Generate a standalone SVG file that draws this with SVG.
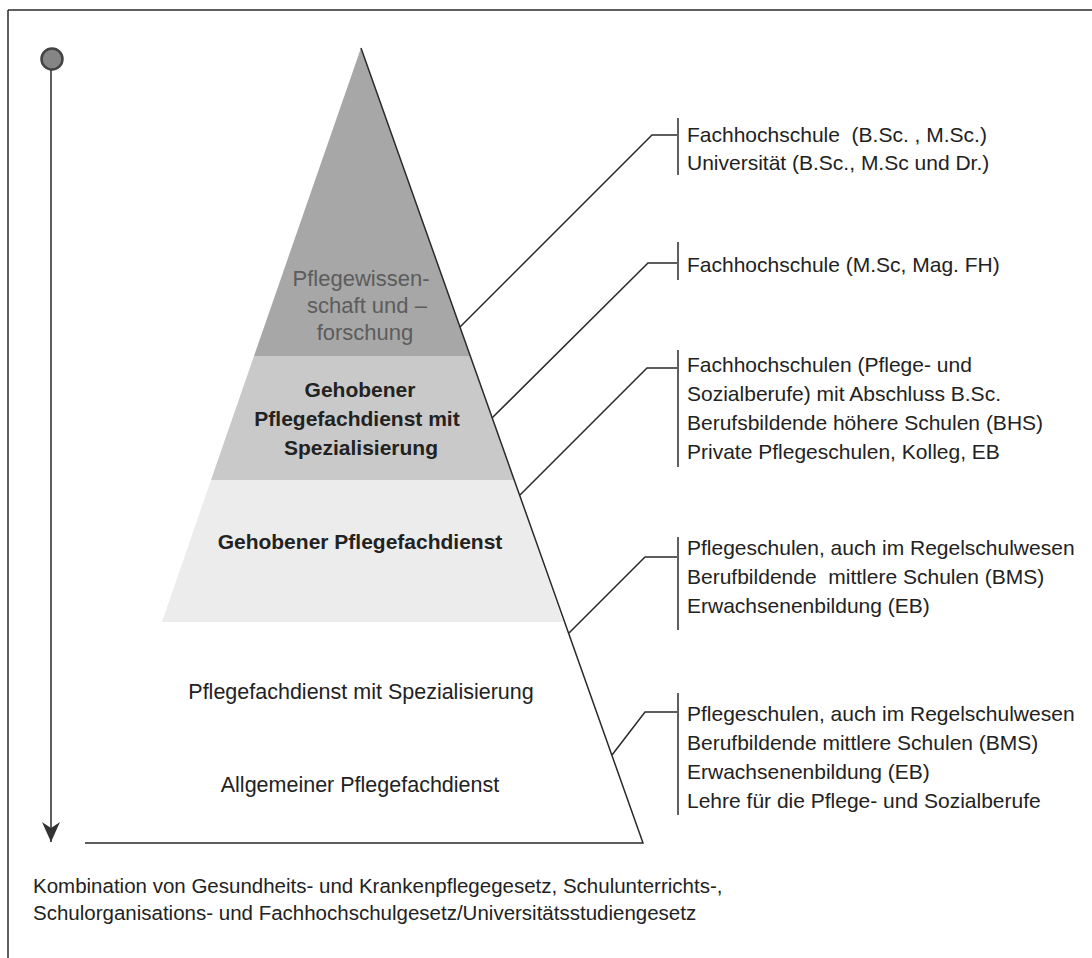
<svg xmlns="http://www.w3.org/2000/svg" width="1092" height="958" viewBox="0 0 1092 958">
<defs>
<style>
.t{font-family:"Liberation Sans",Arial,sans-serif;font-size:21px;fill:#222}
.f{font-family:"Liberation Sans",Arial,sans-serif;font-size:20.5px;fill:#222}
.pc{font-family:"Liberation Sans",Arial,sans-serif;font-size:21.5px;fill:#222;text-anchor:middle}
.pb{font-weight:bold;font-size:21px}
.pg{fill:#5c5c5c;font-size:22px}
.ln{stroke:#2a2a2a;stroke-width:1.5;fill:none}
</style>
<marker id="ah" viewBox="0 0 24 20" refX="22" refY="10" markerWidth="24" markerHeight="20" markerUnits="userSpaceOnUse" orient="auto">
<path d="M2,1 L22,10 L2,19 L8,10 Z" fill="#333"/>
</marker>
</defs>
<rect width="1092" height="958" fill="#fff"/>
<g id="frame">
<line class="ln" x1="8" y1="10" x2="1092" y2="10" stroke-width="2"/>
<line class="ln" x1="8" y1="10" x2="8" y2="958"/>
</g>
<g id="axis">
<circle cx="52" cy="59" r="10.5" fill="#858585" stroke="#444" stroke-width="2.5"/>
<line class="ln" x1="51" y1="70" x2="51" y2="842" marker-end="url(#ah)"/>
</g>
<g id="pyramid">
<polygon points="361,48 470,356 254,356" fill="#a7a7a7"/>
<polygon points="254,356 470,356 514,480 211,480" fill="#c9c9c9"/>
<polygon points="211,480 514,480 563,622 162,622" fill="#ececec"/>
<polyline class="ln" points="361,48 643,843 85,843"/>
</g>
<g id="level1">
<text class="pc pg" x="361" y="286">Pflegewissen-</text>
<text class="pc pg" x="367" y="313">schaft und –</text>
<text class="pc pg" x="365" y="340">forschung</text>
</g>
<g id="level2">
<text class="pc pb" x="360" y="397">Gehobener</text>
<text class="pc pb" x="357" y="426">Pflegefachdienst mit</text>
<text class="pc pb" x="361" y="455">Spezialisierung</text>
</g>
<g id="level3">
<text class="pc pb" x="360" y="549">Gehobener Pflegefachdienst</text>
</g>
<g id="level4">
<text class="pc" x="361" y="699">Pflegefachdienst mit Spezialisierung</text>
</g>
<g id="level5">
<text class="pc" x="360" y="792">Allgemeiner Pflegefachdienst</text>
</g>
<g id="connectors">
<polyline class="ln" points="460,327 652,135 677,135"/>
<polyline class="ln" points="492,418 648,263 677,263"/>
<polyline class="ln" points="520,495 647,368 677,368"/>
<polyline class="ln" points="569,633 645,557 677,557"/>
<polyline class="ln" points="612,755 645,712 677,712"/>
</g>
<g id="label1">
<line class="ln" x1="678" y1="118" x2="678" y2="175"/>
<text class="t" x="687" y="142">Fachhochschule&#160; (B.Sc. , M.Sc.)</text>
<text class="t" x="687" y="170">Universität (B.Sc., M.Sc und Dr.)</text>
</g>
<g id="label2">
<line class="ln" x1="678" y1="242" x2="678" y2="280"/>
<text class="t" x="687" y="272">Fachhochschule (M.Sc, Mag. FH)</text>
</g>
<g id="label3">
<line class="ln" x1="678" y1="350" x2="678" y2="467"/>
<text class="t" x="687" y="372">Fachhochschulen (Pflege- und</text>
<text class="t" x="687" y="401">Sozialberufe) mit Abschluss B.Sc.</text>
<text class="t" x="687" y="430">Berufsbildende höhere Schulen (BHS)</text>
<text class="t" x="687" y="459">Private Pflegeschulen, Kolleg, EB</text>
</g>
<g id="label4">
<line class="ln" x1="678" y1="537" x2="678" y2="630"/>
<text class="t" x="687" y="555">Pflegeschulen, auch im Regelschulwesen</text>
<text class="t" x="687" y="584">Berufbildende&#160; mittlere Schulen (BMS)</text>
<text class="t" x="687" y="613">Erwachsenenbildung (EB)</text>
</g>
<g id="label5">
<line class="ln" x1="678" y1="693" x2="678" y2="815"/>
<text class="t" x="687" y="721">Pflegeschulen, auch im Regelschulwesen</text>
<text class="t" x="687" y="750">Berufbildende mittlere Schulen (BMS)</text>
<text class="t" x="687" y="779">Erwachsenenbildung (EB)</text>
<text class="t" x="687" y="808">Lehre für die Pflege- und Sozialberufe</text>
</g>
<g id="footer">
<text class="f" x="33" y="893">Kombination von Gesundheits- und Krankenpflegegesetz, Schulunterrichts-,</text>
<text class="f" x="33" y="920">Schulorganisations- und Fachhochschulgesetz/Universitätsstudiengesetz</text>
</g>
</svg>
